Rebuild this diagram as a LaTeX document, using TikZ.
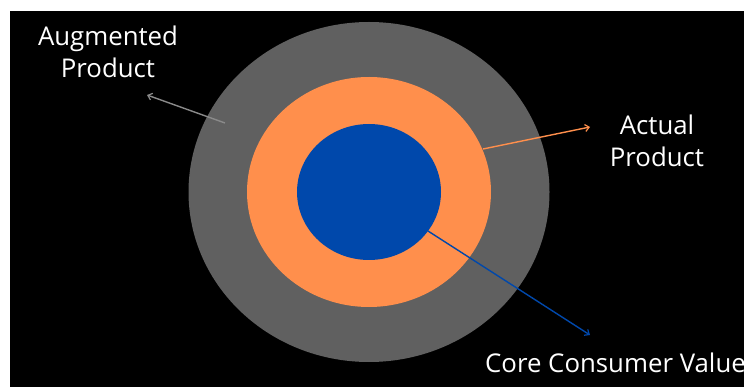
\documentclass[tikz,border=0pt]{standalone}
\usepackage{fontspec}
\setmainfont{Open Sans}
\usetikzlibrary{shapes.geometric,arrows.meta}
\definecolor{ringgray}{HTML}{606060}
\definecolor{ringorange}{HTML}{FF8F4C}
\definecolor{coreblue}{HTML}{0048AB}
\definecolor{pointergray}{HTML}{8A8A8A}
\tikzset{
  ring/.style={ellipse, inner sep=0pt, draw=none},
  label text/.style={text=white, font=\fontsize{25.8}{32}\selectfont, inner sep=0pt},
  pointer/.style={line width=1.4pt, -{Straight Barb[length=4pt,width=7pt,line width=1.2pt]}},
}
\begin{document}
\begin{tikzpicture}[x=1pt, y=-1pt]
  \useasboundingbox (0,0) rectangle (744,387);
  \fill[white] (0,0) rectangle (744,387);
  \fill[black] (10,11) rectangle (744,387);

  % concentric product levels
  \node[ring, fill=ringgray, minimum width=361pt, minimum height=340pt] (augmented) at (369,192) {};
  \node[ring, fill=ringorange, minimum width=244pt, minimum height=230pt] (actual) at (369,192) {};
  \node[ring, fill=coreblue, minimum width=144pt, minimum height=136pt] (core) at (369,192) {};

  % labels (base anchor sits on the last line's baseline)
  \node[label text, align=center, anchor=base] (augtext) at (108,78) {Augmented\\Product};
  \node[label text, align=center, anchor=base] (acttext) at (657,167) {Actual\\Product};
  \node[label text, anchor=base west] (coretext) at (485,372) {Core Consumer Value};

  % pointer end points
  \coordinate (augstart) at (225,123);
  \coordinate (augtip) at (147,95);
  \coordinate (actstart) at (483,149);
  \coordinate (acttip) at (590,127);
  \coordinate (corestart) at (428,231);
  \coordinate (coretip) at (590,335);

  \draw[pointer, pointergray] (augstart) -- (augtip);
  \draw[pointer, ringorange] (actstart) -- (acttip);
  \draw[pointer, coreblue] (corestart) -- (coretip);
\end{tikzpicture}
\end{document}
